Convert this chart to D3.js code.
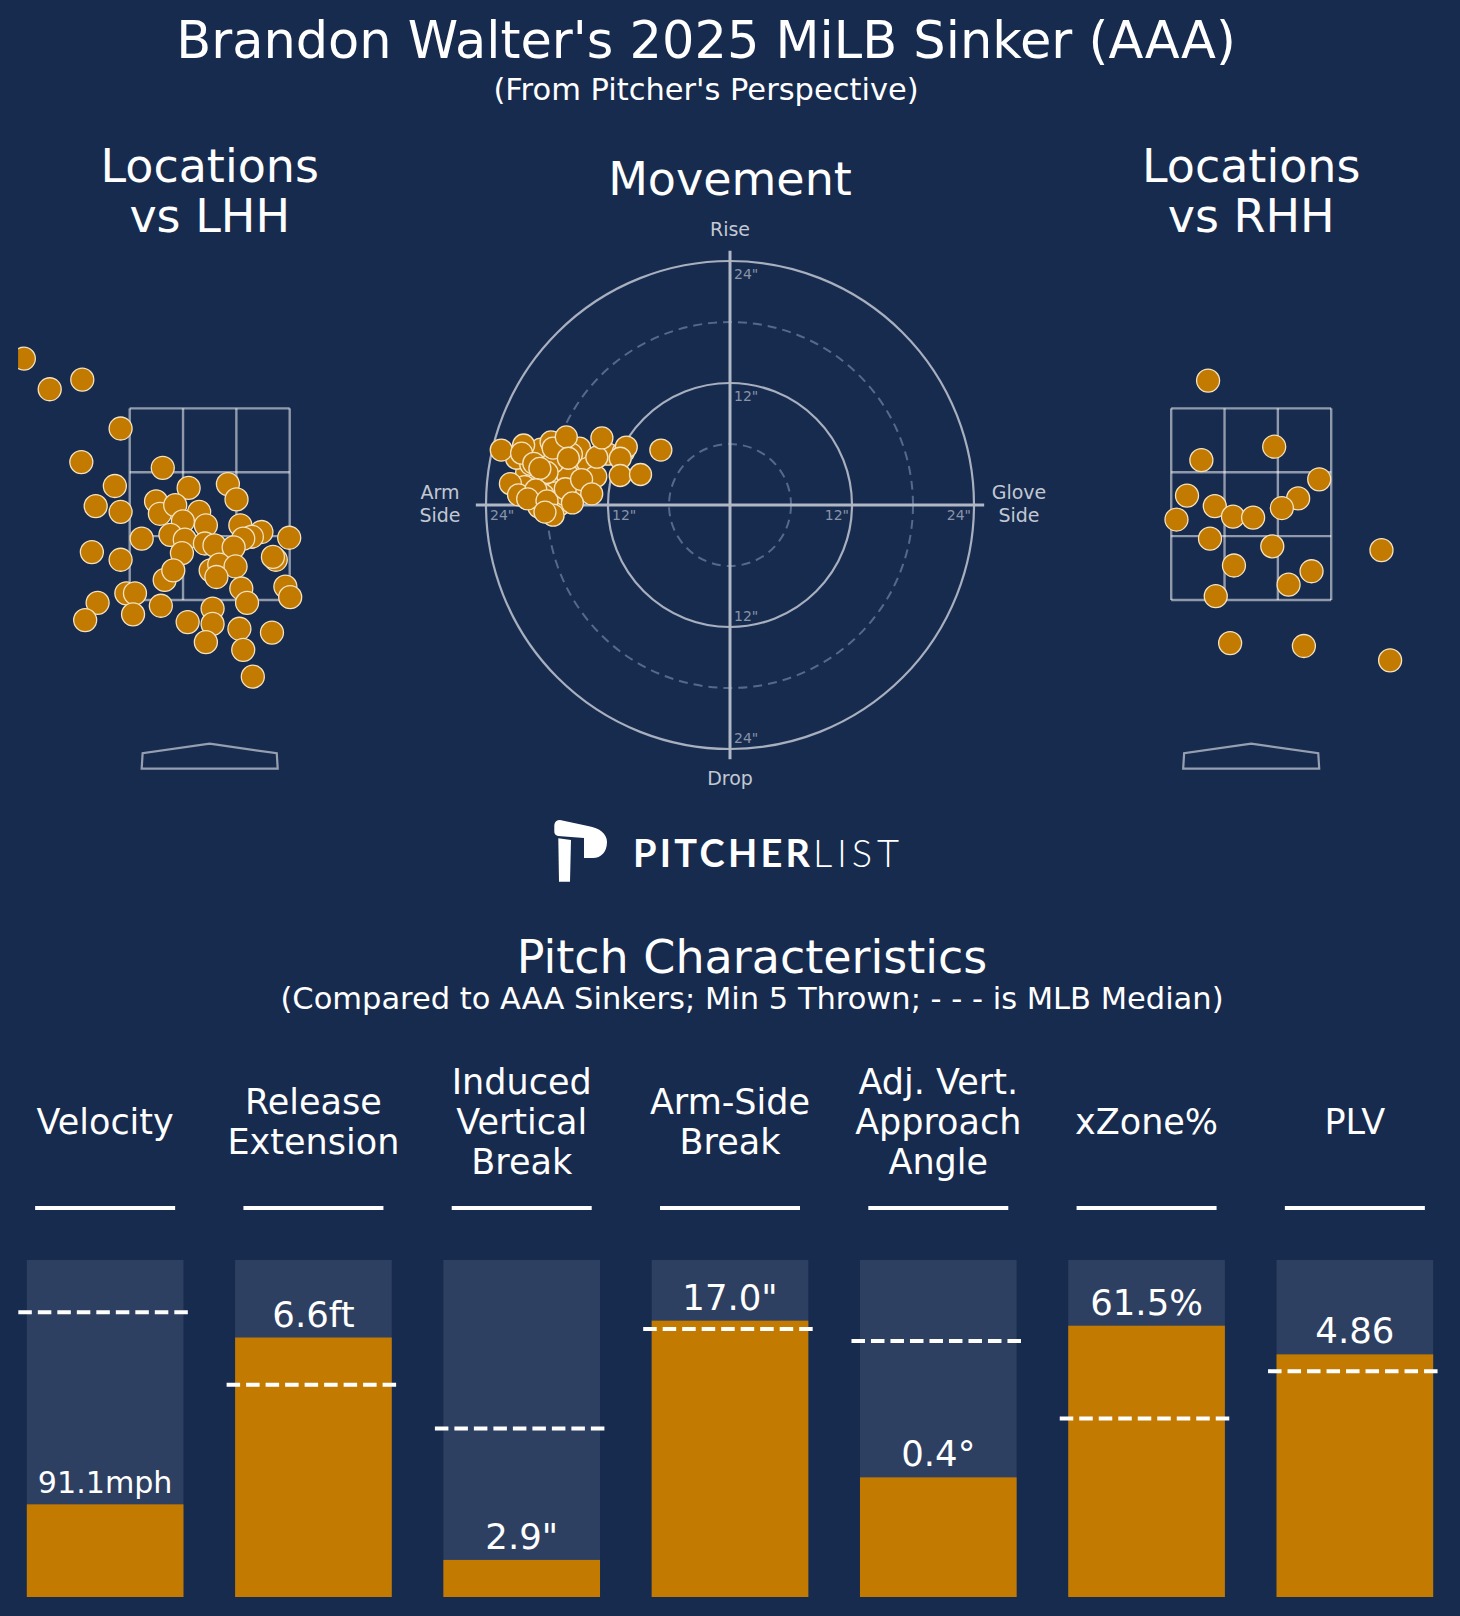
<!DOCTYPE html>
<html>
<head>
<meta charset="utf-8">
<script src="https://cdn.jsdelivr.net/npm/d3@7"></script>
<style>
    body { margin: 0; background: #172b4f; }
    svg { display: block; font-family: "DejaVu Sans", sans-serif; }
</style>
</head>
<body>
<div id="card"></div>
<script>
// pitch locations in feet (plate_x, plate_z)
const lhhLocations = [
    [-1.94, 4.02], [-1.67, 3.70], [-1.33, 3.80], [-0.93, 3.29], [-1.34, 2.94], [-0.49, 2.88],
    [-0.99, 2.69], [-0.22, 2.67], [0.19, 2.71], [0.28, 2.55], [-1.19, 2.48], [-0.93, 2.42],
    [-0.56, 2.53], [-0.52, 2.40], [-0.36, 2.49], [-0.11, 2.42], [-0.28, 2.32], [-0.04, 2.28],
    [0.32, 2.28], [0.54, 2.21], [0.44, 2.16], [0.35, 2.14], [0.83, 2.15], [-0.71, 2.14],
    [-0.41, 2.18], [-0.26, 2.13], [-0.05, 2.09], [0.05, 2.07], [0.25, 2.05], [-0.29, 1.99],
    [-1.23, 2.00], [-0.93, 1.92], [0.69, 1.92], [0.66, 1.95], [0.01, 1.81], [0.10, 1.87],
    [0.27, 1.85], [0.07, 1.74], [-0.47, 1.71], [-0.38, 1.81], [-0.87, 1.57], [-0.78, 1.57],
    [-1.17, 1.47], [0.33, 1.62], [0.79, 1.64], [0.84, 1.53], [0.39, 1.47], [0.03, 1.41],
    [-0.51, 1.44], [-0.80, 1.35], [-1.30, 1.29], [-0.23, 1.27], [0.03, 1.25], [0.31, 1.20],
    [0.65, 1.16], [-0.04, 1.06], [0.35, 0.98], [0.45, 0.70]
];

const rhhLocations = [
    [-0.45, 3.79], [-0.52, 2.96], [0.24, 3.10], [0.71, 2.76], [-0.67, 2.59], [-0.78, 2.34],
    [-0.38, 2.48], [-0.19, 2.37], [0.02, 2.36], [0.49, 2.56], [0.32, 2.46], [-0.43, 2.14],
    [0.22, 2.06], [-0.18, 1.86], [0.63, 1.80], [0.39, 1.66], [-0.37, 1.54], [-0.22, 1.05],
    [0.55, 1.02], [1.36, 2.02], [1.45, 0.87]
];

// movement in inches (horizontal break, induced vertical break), arm side negative
const movement = [
    [-19.0, 3.0], [-18.2, 4.8], [-17.0, 3.5], [-16.5, 2.4], [-17.8, 2.2], [-15.2, 3.6],
    [-14.0, 4.2], [-16.8, 5.2], [-18.6, 5.5], [-20.0, 3.2], [-19.5, 2.0], [-17.2, 1.2],
    [-15.0, 1.8], [-18.8, -0.2], [-16.8, 0.0], [-14.8, 5.6], [-12.0, 5.0], [-10.5, 5.2],
    [-21.0, 4.6], [-17.6, 6.2], [-16.0, 3.0], [-13.2, 2.8], [-18.4, 1.0], [-20.2, 1.8],
    [-19.6, 4.0], [-17.4, 4.2], [-15.6, 5.0], [-18.0, 3.2], [-16.2, 1.0], [-19.2, 1.0],
    [-22.5, 5.4], [-20.3, 5.9], [-20.5, 5.1], [-19.3, 4.1], [-18.7, 3.6], [-17.4, 5.6],
    [-16.1, 6.7], [-15.9, 4.6], [-13.1, 4.7], [-12.6, 6.6], [-10.2, 5.7], [-10.8, 4.6],
    [-10.8, 2.9], [-8.8, 3.0], [-6.8, 5.4], [-21.6, 2.1], [-20.8, 1.0], [-19.1, 1.5],
    [-19.9, 0.6], [-18.0, 0.4], [-16.2, 1.6], [-14.6, 2.5], [-13.6, 1.1], [-15.5, 0.2],
    [-17.4, -1.0], [-18.2, -0.7]
];
const solidRings = [12, 24];
const dashedRings = [6, 18];
const ringTicks = [12, 24];

// pitch characteristics
const metricNames = [
    ["Velocity"], ["Release", "Extension"], ["Induced", "Vertical", "Break"], ["Arm-Side", "Break"],
    ["Adj. Vert.", "Approach", "Angle"], ["xZone%"], ["PLV"]
];
const metricLabels = ["91.1mph", "6.6ft", "2.9\"", "17.0\"", "0.4°", "61.5%", "4.86"];
const percentiles = [27.5, 77, 11, 82, 35.5, 80.5, 72];
const mlbMedians = [84.5, 63, 50, 79.5, 76, 53, 67];

const BG = "#172b4f";
const ORANGE = "#c37a00";
const DOT_EDGE = "#f3e2bf";

class PitchCard {
    constructor(_parentElement) {
        this.parentElement = _parentElement;
        this.initVis();
    }

    initVis() {
        let vis = this;
        vis.width = 1460;
        vis.height = 1616;

        vis.svg = d3.select("#" + vis.parentElement).append("svg")
            .attr("width", vis.width)
            .attr("height", vis.height);

        vis.svg.append("rect")
            .attr("width", vis.width)
            .attr("height", vis.height)
            .attr("fill", BG);

        // Titles
        vis.svg.append("text")
            .attr("x", 706).attr("y", 58)
            .attr("text-anchor", "middle")
            .attr("font-size", 51)
            .attr("fill", "white")
            .text("Brandon Walter's 2025 MiLB Sinker (AAA)");

        vis.svg.append("text")
            .attr("x", 706).attr("y", 100)
            .attr("text-anchor", "middle")
            .attr("font-size", 30.5)
            .attr("fill", "white")
            .text("(From Pitcher's Perspective)");

        vis.ft = 95.8; // pixels per foot in the location plots

        vis.drawLocations(209.7, lhhLocations, "vs LHH", "clipL");
        vis.drawLocations(1251.2, rhhLocations, "vs RHH", "clipR");
        vis.drawMovement();
        vis.drawLogo();
        vis.drawBars();
    }

    drawLocations(cx, pts, label, clipId) {
        let vis = this;
        let ft = vis.ft;

        let x = d3.scaleLinear().domain([-2, 2]).range([cx - 2 * ft, cx + 2 * ft]);
        let y = d3.scaleLinear().domain([1.5, 3.5]).range([600, 600 - 2 * ft]);

        vis.svg.append("clipPath").attr("id", clipId)
            .append("rect")
            .attr("x", x(-2)).attr("y", y(5.5))
            .attr("width", x(2) - x(-2))
            .attr("height", y(-1) - y(5.5));

        let g = vis.svg.append("g");

        // title
        g.selectAll(".loc-title")
            .data(["Locations", label])
            .enter().append("text")
            .attr("x", cx)
            .attr("y", (d, i) => 182 + i * 50)
            .attr("text-anchor", "middle")
            .attr("font-size", 46)
            .attr("fill", "white")
            .text(d => d);

        // strike zone grid
        let zx = [-0.835, -0.2783, 0.2783, 0.835];
        let zz = [1.5, 2.1667, 2.8333, 3.5];
        let zoneStroke = "rgba(255,255,255,0.52)";

        g.selectAll(".zone-v")
            .data(zx)
            .enter().append("line")
            .attr("x1", d => x(d)).attr("x2", d => x(d))
            .attr("y1", y(1.5)).attr("y2", y(3.5))
            .attr("stroke", zoneStroke)
            .attr("stroke-width", 2.4);

        g.selectAll(".zone-h")
            .data(zz)
            .enter().append("line")
            .attr("y1", d => y(d)).attr("y2", d => y(d))
            .attr("x1", x(-0.835)).attr("x2", x(0.835))
            .attr("stroke", zoneStroke)
            .attr("stroke-width", 2.4);

        // home plate
        let plate = [[-0.71, -0.26], [-0.7, -0.1], [0, 0], [0.7, -0.1], [0.71, -0.26]];
        g.append("path")
            .datum(plate)
            .attr("d", d3.line().x(d => x(d[0])).y(d => y(d[1])).curve(d3.curveLinearClosed))
            .attr("fill", "none")
            .attr("stroke", "rgba(255,255,255,0.55)")
            .attr("stroke-width", 2.2);

        // pitches
        g.append("g")
            .attr("clip-path", "url(#" + clipId + ")")
            .selectAll("circle")
            .data(pts)
            .enter().append("circle")
            .attr("cx", d => x(d[0]))
            .attr("cy", d => y(d[1]))
            .attr("r", 11.5)
            .attr("fill", ORANGE)
            .attr("stroke", DOT_EDGE)
            .attr("stroke-width", 1.3);
    }

    drawMovement() {
        let vis = this;
        let cx = 730, cy = 505;
        let r = d3.scaleLinear().domain([0, 24]).range([0, 244]);
        let x = d3.scaleLinear().domain([-24, 24]).range([cx - 244, cx + 244]);
        let y = d3.scaleLinear().domain([-24, 24]).range([cy + 244, cy - 244]);

        let g = vis.svg.append("g");

        g.append("text")
            .attr("x", cx).attr("y", 195)
            .attr("text-anchor", "middle")
            .attr("font-size", 46)
            .attr("fill", "white")
            .text("Movement");

        g.selectAll(".ring-dashed")
            .data(dashedRings)
            .enter().append("circle")
            .attr("cx", cx).attr("cy", cy)
            .attr("r", d => r(d))
            .attr("fill", "none")
            .attr("stroke", "#56698c")
            .attr("stroke-width", 2)
            .attr("stroke-dasharray", "9,6");

        g.selectAll(".ring-solid")
            .data(solidRings)
            .enter().append("circle")
            .attr("cx", cx).attr("cy", cy)
            .attr("r", d => r(d))
            .attr("fill", "none")
            .attr("stroke", "#a8afbe")
            .attr("stroke-width", 2.2);

        // cross axes
        g.append("line")
            .attr("x1", x(-25)).attr("x2", x(25))
            .attr("y1", cy).attr("y2", cy)
            .attr("stroke", "#b0b7c5").attr("stroke-width", 3);
        g.append("line")
            .attr("y1", y(25)).attr("y2", y(-25))
            .attr("x1", cx).attr("x2", cx)
            .attr("stroke", "#b0b7c5").attr("stroke-width", 3);

        // ring tick labels
        let tickColor = "#8994a8";
        ringTicks.forEach(t => {
            g.append("text").attr("x", x(-t) + 4).attr("y", cy + 15)
                .attr("text-anchor", "start").attr("font-size", 14).attr("fill", tickColor).text(t + '"');
            g.append("text").attr("x", x(t) - 3).attr("y", cy + 15)
                .attr("text-anchor", "end").attr("font-size", 14).attr("fill", tickColor).text(t + '"');
            g.append("text").attr("x", cx + 4).attr("y", y(t) + 18)
                .attr("text-anchor", "start").attr("font-size", 14).attr("fill", tickColor).text(t + '"');
            g.append("text").attr("x", cx + 4).attr("y", y(-t) - 6)
                .attr("text-anchor", "start").attr("font-size", 14).attr("fill", tickColor).text(t + '"');
        });

        // direction labels
        let lblColor = "#c3c8d2";
        g.append("text").attr("x", cx).attr("y", 236)
            .attr("text-anchor", "middle").attr("font-size", 19).attr("fill", lblColor).text("Rise");
        g.append("text").attr("x", cx).attr("y", 785)
            .attr("text-anchor", "middle").attr("font-size", 19).attr("fill", lblColor).text("Drop");
        [["Arm", "Side", 440], ["Glove", "Side", 1019]].forEach(d => {
            g.append("text").attr("x", d[2]).attr("y", 499)
                .attr("text-anchor", "middle").attr("font-size", 19).attr("fill", lblColor).text(d[0]);
            g.append("text").attr("x", d[2]).attr("y", 522)
                .attr("text-anchor", "middle").attr("font-size", 19).attr("fill", lblColor).text(d[1]);
        });

        g.selectAll(".mv-point")
            .data(movement)
            .enter().append("circle")
            .attr("cx", d => x(d[0]))
            .attr("cy", d => y(d[1]))
            .attr("r", 11)
            .attr("fill", ORANGE)
            .attr("stroke", DOT_EDGE)
            .attr("stroke-width", 1.3);
    }

    drawLogo() {
        let vis = this;
        let g = vis.svg.append("g").attr("transform", "translate(545,810)");

        // stylised P mark: slanted top band + bowl, then the stem
        g.append("path")
            .attr("d", "M9.3,15 Q10,10 15,10 L43,16 C55,18 62,24 62,32 C62,42 56,48 48,48 L39,48 L39,28 L13,26 Q9,25 9.3,21 Z")
            .attr("fill", "white");
        g.append("path")
            .attr("d", "M13.3,28.3 L26,30 L25,71.7 L14,71.7 Z")
            .attr("fill", "white");

        vis.svg.append("text")
            .attr("x", 633).attr("y", 867)
            .attr("font-family", "Lato, 'Open Sans', sans-serif")
            .attr("font-weight", 700)
            .attr("font-size", 38)
            .attr("textLength", 177)
            .attr("lengthAdjust", "spacing")
            .attr("fill", "white")
            .text("PITCHER");

        vis.svg.append("text")
            .attr("x", 813).attr("y", 867)
            .attr("font-family", "Lato, 'Open Sans', sans-serif")
            .attr("font-weight", 300)
            .attr("font-size", 38)
            .attr("textLength", 86)
            .attr("lengthAdjust", "spacing")
            .attr("fill", "white")
            .text("LIST");
    }

    drawBars() {
        let vis = this;

        vis.svg.append("text")
            .attr("x", 752).attr("y", 973)
            .attr("text-anchor", "middle")
            .attr("font-size", 46)
            .attr("fill", "white")
            .text("Pitch Characteristics");

        vis.svg.append("text")
            .attr("x", 752).attr("y", 1009)
            .attr("text-anchor", "middle")
            .attr("font-size", 30.5)
            .attr("fill", "white")
            .text("(Compared to AAA Sinkers; Min 5 Thrown; - - - is MLB Median)");

        let x = d3.scaleBand()
            .domain(d3.range(metricNames.length))
            .range([1, 1459])
            .paddingInner(0.248)
            .paddingOuter(0.124);
        let y = d3.scaleLinear().domain([0, 100]).range([1597, 1260]);
        let bw = x.bandwidth();

        let cols = vis.svg.selectAll(".metric")
            .data(metricNames)
            .enter().append("g")
            .attr("class", "metric");

        // header text
        cols.each(function(lines, i) {
            let col = d3.select(this);
            let cxm = x(i) + bw / 2;
            lines.forEach((ln, j) => {
                col.append("text")
                    .attr("x", cxm)
                    .attr("y", 1134 + (j - (lines.length - 1) / 2) * 40)
                    .attr("text-anchor", "middle")
                    .attr("font-size", 35)
                    .attr("fill", "white")
                    .text(ln);
            });
        });

        cols.append("line")
            .attr("x1", (d, i) => x(i) + bw / 2 - 70)
            .attr("x2", (d, i) => x(i) + bw / 2 + 70)
            .attr("y1", 1208).attr("y2", 1208)
            .attr("stroke", "white")
            .attr("stroke-width", 4);

        cols.append("rect")
            .attr("x", (d, i) => x(i))
            .attr("y", y(100))
            .attr("width", bw)
            .attr("height", y(0) - y(100))
            .attr("fill", "#2e4061");

        cols.append("rect")
            .attr("x", (d, i) => x(i))
            .attr("y", (d, i) => y(percentiles[i]))
            .attr("width", bw)
            .attr("height", (d, i) => y(0) - y(percentiles[i]))
            .attr("fill", ORANGE);

        cols.append("line")
            .attr("x1", (d, i) => x(i) - 8.5)
            .attr("x2", (d, i) => x(i) + bw + 8.5)
            .attr("y1", (d, i) => y(mlbMedians[i]))
            .attr("y2", (d, i) => y(mlbMedians[i]))
            .attr("stroke", "white")
            .attr("stroke-width", 4)
            .attr("stroke-dasharray", "13.5,6");

        // value labels, shrunk when they would be wider than the bar allows
        cols.append("text")
            .attr("x", (d, i) => x(i) + bw / 2)
            .attr("y", (d, i) => y(percentiles[i]) - 11)
            .attr("text-anchor", "middle")
            .attr("font-size", 35.5)
            .attr("fill", "white")
            .text((d, i) => metricLabels[i])
            .each(function() {
                let w = this.getComputedTextLength();
                let maxW = bw * 0.86;
                if (w > maxW) d3.select(this).attr("font-size", 35.5 * maxW / w);
            });
    }
}

new PitchCard("card");
</script>
</body>
</html>
